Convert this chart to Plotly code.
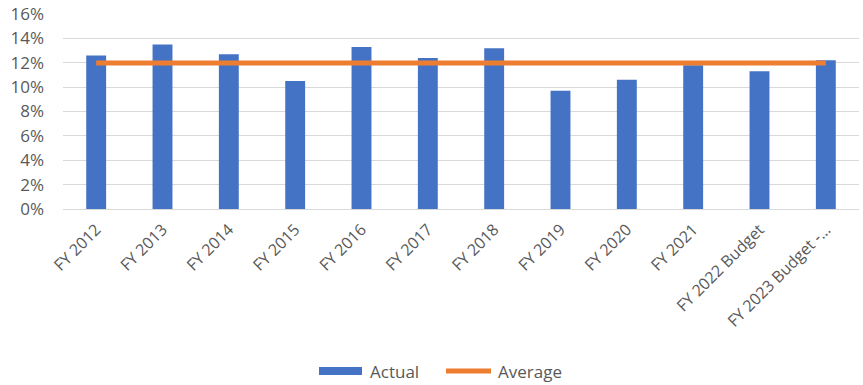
import plotly.graph_objects as go

# Fiscal-year categories and the actual rate per year
categories = [
    "FY 2012", "FY 2013", "FY 2014", "FY 2015", "FY 2016", "FY 2017",
    "FY 2018", "FY 2019", "FY 2020", "FY 2021", "FY 2022 Budget",
    "FY 2023 Budget -…",
]
actual = [0.126, 0.135, 0.127, 0.105, 0.133, 0.124,
          0.132, 0.097, 0.106, 0.118, 0.113, 0.122]
average_value = sum(actual) / len(actual)
average = [average_value] * len(categories)

BLUE = "#4472C4"
ORANGE = "#ED7D31"
GRID = "#D9D9D9"
TEXT = "#595959"
FONT = "Open Sans"
SIZE = 17

W, H = 863, 385
M_L, M_R, M_T, M_B = 63, 4, 14, 176
PLOT_W = W - M_L - M_R
PLOT_H = H - M_T - M_B


def px_x(px):
    return (px - M_L) / PLOT_W


def px_y(py):
    return (H - M_B - py) / PLOT_H


fig = go.Figure()
fig.add_trace(go.Bar(
    x=categories, y=actual, name="Actual",
    marker=dict(color=BLUE, line=dict(width=0)),
    width=0.3, showlegend=False,
))
fig.add_trace(go.Scatter(
    x=categories, y=average, name="Average", mode="lines",
    line=dict(color=ORANGE, width=5), showlegend=False,
))

# Legend row drawn below the axis labels
legend_y = 371
fig.add_shape(type="rect", xref="paper", yref="paper",
              x0=px_x(319), x1=px_x(362), y0=px_y(375), y1=px_y(367),
              fillcolor=BLUE, line=dict(width=0))
fig.add_shape(type="line", xref="paper", yref="paper",
              x0=px_x(446), x1=px_x(491), y0=px_y(legend_y), y1=px_y(legend_y),
              line=dict(color=ORANGE, width=5))
fig.add_annotation(text="Actual", xref="paper", yref="paper",
                   x=px_x(368), y=px_y(legend_y), xanchor="left", yanchor="middle",
                   showarrow=False, font=dict(family=FONT, size=SIZE, color=TEXT))
fig.add_annotation(text="Average", xref="paper", yref="paper",
                   x=px_x(496), y=px_y(legend_y), xanchor="left", yanchor="middle",
                   showarrow=False, font=dict(family=FONT, size=SIZE, color=TEXT))

fig.update_layout(
    width=W, height=H,
    margin=dict(l=M_L, r=M_R, t=M_T, b=M_B, autoexpand=False),
    paper_bgcolor="white", plot_bgcolor="white",
    font=dict(family=FONT, size=SIZE, color=TEXT),
    bargap=0.7,
    showlegend=False,
)
fig.update_xaxes(
    type="category", tickangle=-45, range=[-0.5, len(categories) - 0.5],
    showgrid=False, showline=True, linecolor=GRID, linewidth=1,
    ticks="", tickfont=dict(family=FONT, size=16, color=TEXT),
    ticklabelstandoff=4, automargin=False,
)
fig.update_yaxes(
    range=[0, 0.16], dtick=0.02, tickformat=".0%",
    showgrid=True, gridcolor=GRID, gridwidth=1,
    zeroline=True, zerolinecolor=GRID, zerolinewidth=1,
    showline=False, ticks="",
    tickfont=dict(family=FONT, size=SIZE, color=TEXT),
    ticklabelstandoff=18, automargin=False,
)

fig.write_html("out.html")
